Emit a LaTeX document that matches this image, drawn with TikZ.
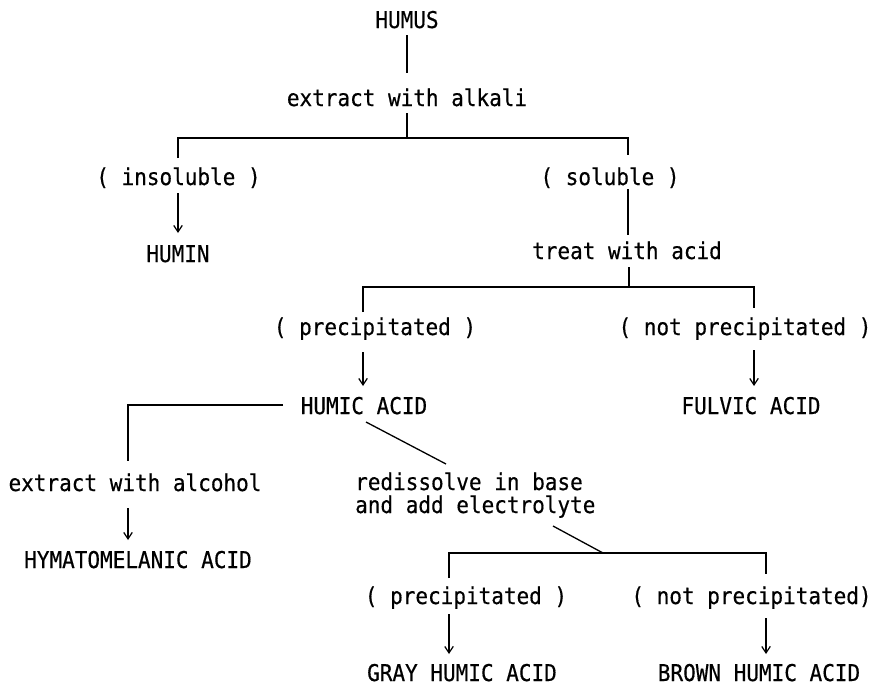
\documentclass[tikz,border=0pt]{standalone}
\usepackage{fontspec}
\usepackage{graphicx}
\newfontfamily\dvm[FakeBold=0.5]{DejaVu Sans Mono}
\newcommand\tall[1]{\scalebox{1}[1.1]{#1}}
\usetikzlibrary{arrows.meta}
\begin{document}
\begin{tikzpicture}[x=1pt,y=-1pt,
  txt/.style={inner sep=0pt,anchor=base,font=\dvm\fontsize{21}{23}\selectfont},
  ln/.style={line width=1.3pt,line cap=butt},
  arr/.style={ln,-{Straight Barb[length=6.5pt,width=8.5pt,line width=1.2pt]}}]
\path[use as bounding box,fill=white] (0,0) rectangle (877,686);
% texts
\node[txt] (humus) at (407,28) {\tall{HUMUS}};
\node[txt] (alkali) at (407,106) {\tall{extract with alkali}};
\node[txt] (insol) at (178.5,185) {\tall{( insoluble )}};
\node[txt] (sol) at (610,185) {\tall{( soluble )}};
\node[txt] (humin) at (178,262) {\tall{HUMIN}};
\node[txt] (acid) at (627,259) {\tall{treat with acid}};
\node[txt] (prec) at (375,335) {\tall{( precipitated )}};
\node[txt] (nprec) at (745,335) {\tall{( not precipitated )}};
\node[txt] (humic) at (364,414) {\tall{HUMIC ACID}};
\node[txt] (fulvic) at (751,414) {\tall{FULVIC ACID}};
\node[txt] (alcohol) at (135,491) {\tall{extract with alcohol}};
\node[txt] (hymato) at (138,568) {\tall{HYMATOMELANIC ACID}};
\node[txt,anchor=base west] (redisA) at (355,490) {\tall{redissolve in base}};
\node[txt,anchor=base west] (redisB) at (355,513) {\tall{and add electrolyte}};
\node[txt] (precB) at (466,604) {\tall{( precipitated )}};
\node[txt] (nprecB) at (751.5,604) {\tall{( not precipitated)}};
\node[txt] (gray) at (462,681) {\tall{GRAY HUMIC ACID}};
\node[txt] (brown) at (759,681) {\tall{BROWN HUMIC ACID}};
% connector end points
\coordinate (h1) at (407,35);  \coordinate (h2) at (407,73);
\coordinate (k1) at (407,113); \coordinate (k2) at (407,138);
\coordinate (kL) at (178,138); \coordinate (kR) at (628,138);
\coordinate (kLd) at (178,158); \coordinate (kRd) at (628,155);
\coordinate (i1) at (178,193); \coordinate (i2) at (178,233);
\coordinate (s1) at (628,189); \coordinate (s2) at (628,235);
\coordinate (t1) at (629,267); \coordinate (t2) at (629,287);
\coordinate (tL) at (363,287); \coordinate (tR) at (754,287);
\coordinate (tLd) at (363,312); \coordinate (tRd) at (754,308);
\coordinate (p1) at (363,352); \coordinate (p2) at (363,386);
\coordinate (n1) at (754,350); \coordinate (n2) at (754,386);
\coordinate (u1) at (283,405); \coordinate (uc) at (128,405); \coordinate (u2) at (128,461);
\coordinate (e1) at (128,508); \coordinate (e2) at (128,540);
\coordinate (d1) at (366,422); \coordinate (d2) at (446,464);
\coordinate (f1) at (553,526); \coordinate (f2) at (603,553);
\coordinate (gL) at (449,553); \coordinate (gR) at (766,553);
\coordinate (gLd) at (449,578); \coordinate (gRd) at (766,574);
\coordinate (q1) at (449,614); \coordinate (q2) at (449,654);
\coordinate (r1) at (766,618); \coordinate (r2) at (766,654);
% connectors
\draw[ln] (h1) -- (h2);
\draw[ln] (k1) -- (k2);
\draw[ln] (kLd) -- (kL) -- (kR) -- (kRd);
\draw[arr] (i1) -- (i2);
\draw[ln] (s1) -- (s2);
\draw[ln] (t1) -- (t2);
\draw[ln] (tLd) -- (tL) -- (tR) -- (tRd);
\draw[arr] (p1) -- (p2);
\draw[arr] (n1) -- (n2);
\draw[ln] (u1) -- (uc) -- (u2);
\draw[arr] (e1) -- (e2);
\draw[ln] (d1) -- (d2);
\draw[ln] (f1) -- (f2);
\draw[ln] (gLd) -- (gL) -- (gR) -- (gRd);
\draw[arr] (q1) -- (q2);
\draw[arr] (r1) -- (r2);
\end{tikzpicture}
\end{document}
